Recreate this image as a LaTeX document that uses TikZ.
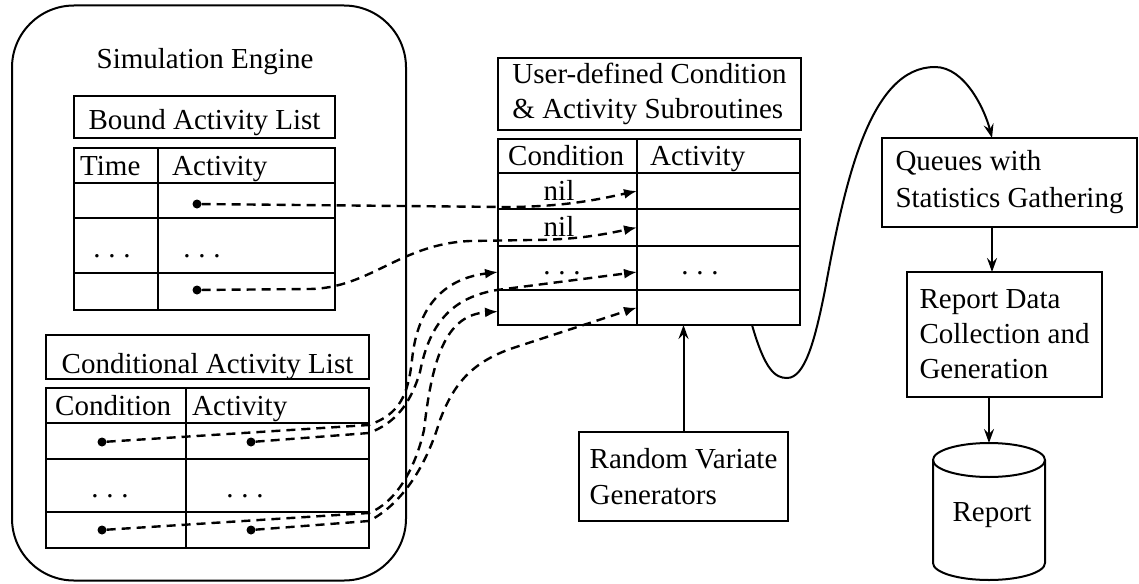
\documentclass[tikz,border=0pt]{standalone}
\usepackage{fontspec}
\setmainfont{Liberation Serif}
\usetikzlibrary{arrows.meta}
\tikzset{
 cellbox/.style={draw, line width=2.2pt, inner sep=0pt, outer sep=0pt},
 lbl/.style={anchor=base west, inner sep=0pt},
 lblc/.style={anchor=base, inner sep=0pt},
 ptr/.style={circle, fill, inner sep=0pt, minimum size=9pt},
 dline/.style={line width=2.4pt, dash pattern=on 9pt off 6pt, -{Latex[length=13pt,width=10pt]}},
 sline/.style={line width=2pt, -{Stealth[length=14pt,width=10pt,inset=5pt]}},
 txtbox/.style={draw, line width=2.2pt, inner sep=0pt, outer sep=0pt, align=left},
}
\newcommand\tdots{.\hspace{0.27em}.\hspace{0.27em}.}
\newcommand\mkcell[5]{\node[cellbox, minimum width={#4-#2}, minimum height={#5-#3}] (#1) at ({(#2+#4)/2},{(#3+#5)/2}) {};}
\begin{document}
\begin{tikzpicture}[x=1pt,y=-1pt, font=\fontsize{29}{35}\selectfont]
\useasboundingbox (0,0) rectangle (1139,583);

% ---------- Simulation engine ----------
\node[draw, line width=2pt, rounded corners=62pt, minimum width=394pt, minimum height=575pt, inner sep=0pt, outer sep=0pt] (engine) at (209,293) {};
\node[lblc] (engt) at (205,69) {Simulation Engine};

% Bound activity list
\node[cellbox, minimum width=261, minimum height=42, text height=24pt, text depth=0pt] (bal) at (204.5,117) {Bound Activity List};
\mkcell{bh1}{74}{148}{158}{183}
\mkcell{bh2}{158}{148}{335}{183}
\mkcell{b11}{74}{183}{158}{218}
\mkcell{b12}{158}{183}{335}{218}
\mkcell{b21}{74}{218}{158}{273}
\mkcell{b22}{158}{218}{335}{273}
\mkcell{b31}{74}{273}{158}{310}
\mkcell{b32}{158}{273}{335}{310}
\node[lbl] (bt1) at (80,175) {Time};
\node[lbl] (bt2) at (172,175) {Activity};
\node[lblc] (bdots1) at (112,257) {\tdots};
\node[lblc] (bdots2) at (202,257) {\tdots};
\node[ptr] (bd1) at (197,204) {};
\node[ptr] (bd2) at (197,290) {};

% Conditional activity list
\node[cellbox, minimum width=323, minimum height=44, text height=32pt, text depth=0pt] (cal) at (207.5,357) {Conditional Activity List};
\mkcell{ch1}{46}{388}{186}{423}
\mkcell{ch2}{186}{388}{369}{423}
\mkcell{c11}{46}{423}{186}{459}
\mkcell{c12}{186}{423}{369}{459}
\mkcell{c21}{46}{459}{186}{512}
\mkcell{c22}{186}{459}{369}{512}
\mkcell{c31}{46}{512}{186}{548}
\mkcell{c32}{186}{512}{369}{548}
\node[lbl] (ct1) at (55,415) {Condition};
\node[lbl] (ct2) at (192,415) {Activity};
\node[lblc] (cdots1) at (110,497) {\tdots};
\node[lblc] (cdots2) at (245,497) {\tdots};
\node[ptr] (cd1c) at (102,442) {};
\node[ptr] (cd1a) at (251,442) {};
\node[ptr] (cd3c) at (102,530) {};
\node[ptr] (cd3a) at (251,530) {};

% ---------- User-defined subroutines ----------
\node[txtbox, minimum width=303, minimum height=72] (udc) at (649.5,94) {User-defined Condition\\\& Activity Subroutines};
\mkcell{mh1}{498}{139}{637}{173}
\mkcell{mh2}{637}{139}{800}{173}
\mkcell{m1c}{498}{173}{637}{209}
\mkcell{m1a}{637}{173}{800}{209}
\mkcell{m2c}{498}{209}{637}{246}
\mkcell{m2a}{637}{209}{800}{246}
\mkcell{m3c}{498}{246}{637}{290}
\mkcell{m3a}{637}{246}{800}{290}
\mkcell{m4c}{498}{290}{637}{325}
\mkcell{m4a}{637}{290}{800}{325}
\node[lbl] (mt1) at (508,165) {Condition};
\node[lbl] (mt2) at (650,165) {Activity};
\node[lblc] (nil1) at (559,200) {nil};
\node[lblc] (nil2) at (559,236) {nil};
\node[lblc] (mdots1) at (562,274) {\tdots};
\node[lblc] (mdots2) at (700,274) {\tdots};

% ---------- Other boxes ----------
\node[txtbox, minimum width=209, minimum height=89, font=\fontsize{29}{36}\selectfont] (rvg) at (683.5,476.5) {Random Variate\\Generators};
\node[txtbox, minimum width=255, minimum height=89, font=\fontsize{29}{37}\selectfont] (qsg) at (1009.5,182.5) {Queues with\\Statistics Gathering};
\node[txtbox, minimum width=195, minimum height=125, font=\fontsize{29}{35}\selectfont] (rdc) at (1004.5,334.5) {Report Data\\Collection and\\Generation};

% Report cylinder
\draw[line width=2pt] (989,460) ellipse [x radius=56pt, y radius=17pt];
\draw[line width=2pt] (933,460) -- (933,563) arc[start angle=180, end angle=360, x radius=56pt, y radius=17pt] -- (1045,460);
\coordinate (cyltop) at (989,443);
\node[lblc] (rep) at (992,521) {Report};

% ---------- Dashed pointers ----------
\draw[dline] (bd1) -- (505,207) .. controls (565,207) and (600,199) .. (m1a.west);
\draw[dline] (bd2) -- (310,289) .. controls (370,288) and (400,244) .. (470,241) -- (530,240) .. controls (580,240) and (610,233) .. (m2a.west);
\draw[dline] (cd1c) -- (369,425) .. controls (400,414) and (408,395) .. (412,360) .. controls (418,300) and (450,278) .. ([yshift=-4pt]m3c.west);
\draw[dline] (cd1a) -- (369,433) .. controls (395,423) and (410,405) .. (420,372) .. controls (430,320) and (455,297) .. (497,290) -- ([yshift=-4pt]m3a.west);
\draw[dline] (cd3c) -- (369,513) .. controls (395,503) and (415,470) .. (424,430) .. controls (432,360) and (445,315) .. ([yshift=-4pt]m4c.west);
\draw[dline] (cd3a) -- (369,521) .. controls (400,505) and (425,470) .. (440,420) .. controls (455,380) and (475,362) .. (510,349) -- (m4a.west);

% ---------- Solid connectors ----------
\draw[sline] ([xshift=33.5pt]m4a.south) .. controls (765,370) and (775,378) .. (787,378) .. controls (805,378) and (815,340) .. (825,290) .. controls (845,180) and (870,67) .. (935,67) .. controls (965,67) and (985,110) .. ([xshift=-17.5pt]qsg.north);
\draw[sline] (rvg.north) -- (rvg.north |- m4a.south);
\draw[sline] ([xshift=-17.5pt]qsg.south) -- ([xshift=-17.5pt]qsg.south |- rdc.north);
\draw[sline] (rdc.south -| cyltop) -- (cyltop);
\end{tikzpicture}
\end{document}
